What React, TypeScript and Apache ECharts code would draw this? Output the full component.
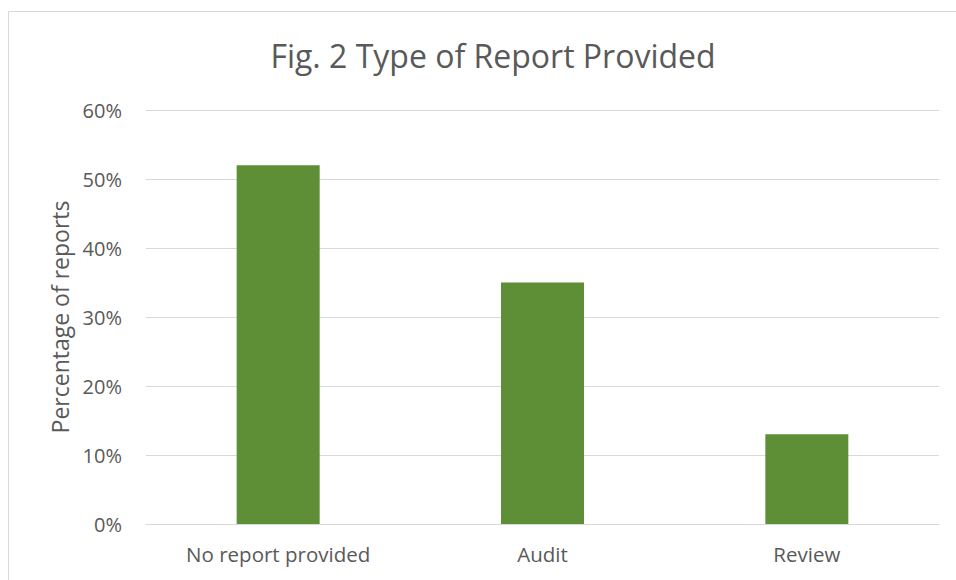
import React, { useEffect, useRef } from "react";
import * as echarts from "echarts";

const categories = ["No report provided", "Audit", "Review"];
const values = [52, 35, 13];
const titleText = "Fig. 2 Type of Report Provided";
const yAxisName = "Percentage of reports";

export default function App() {
  const ref = useRef<HTMLDivElement>(null);
  useEffect(() => {
    if (!ref.current) return;
    const chart = echarts.init(ref.current, undefined, { renderer: "svg" });
    const font = "'Open Sans', 'Noto Sans', sans-serif";
    chart.setOption({
      animation: false,
      backgroundColor: "#ffffff",
      textStyle: { fontFamily: font },
      title: {
        text: titleText,
        left: 488,
        top: 34,
        textAlign: "center",
        textStyle: { fontFamily: font, fontSize: 32, fontWeight: "normal", color: "#595959" },
      },
      graphic: [
        {
          type: "rect",
          shape: { x: 8.5, y: 11.5, width: 980, height: 600 },
          style: { fill: "none", stroke: "#D9D9D9", lineWidth: 1 },
          silent: true,
        },
      ],
      grid: { left: 146, right: 17, top: 110, bottom: 56 },
      xAxis: {
        type: "category",
        data: categories,
        axisLine: { show: true, lineStyle: { color: "#D9D9D9", width: 1 } },
        axisTick: { show: false },
        axisLabel: { color: "#595959", fontSize: 20.5, fontFamily: font, margin: 19 },
      },
      yAxis: {
        type: "value",
        min: 0,
        max: 60,
        interval: 10,
        name: yAxisName,
        nameLocation: "middle",
        nameGap: 75,
        nameRotate: 90,
        nameTextStyle: { color: "#595959", fontSize: 23, fontFamily: font },
        axisLine: { show: false },
        axisTick: { show: false },
        splitLine: { lineStyle: { color: "#D9D9D9", width: 1 } },
        axisLabel: { color: "#595959", fontSize: 20, fontFamily: font, margin: 24, formatter: "{value}%" },
      },
      series: [
        {
          type: "bar",
          data: values,
          barWidth: "31.4%",
          itemStyle: { color: "#5E8E35" },
        },
      ],
    });
    return () => chart.dispose();
  }, []);
  return <div ref={ref} style={{ position: "absolute", left: 0, top: 0, width: 956, height: 580 }} />;
}
